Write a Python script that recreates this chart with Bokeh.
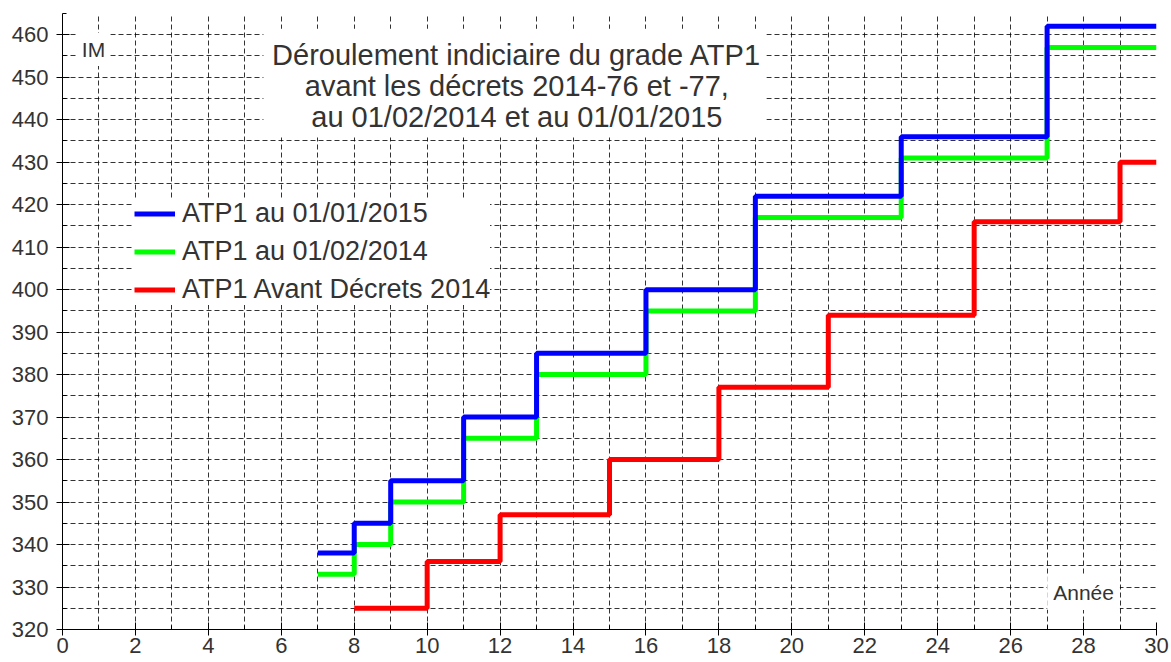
from bokeh.plotting import figure
from bokeh.models import FixedTicker, Label, BoxAnnotation, Range1d, Legend
from bokeh.embed import file_html
from bokeh.resources import INLINE

# ---- data ----
x_2015 = [7, 8, 9, 11, 13, 16, 19, 23, 27, 30]
y_2015 = [338, 345, 355, 370, 385, 400, 422, 436, 462, 462]

x_2014 = [7, 8, 9, 11, 13, 16, 19, 23, 27, 30]
y_2014 = [333, 340, 350, 365, 380, 395, 417, 431, 457, 457]

x_avant = [8, 10, 12, 15, 18, 21, 25, 29, 30]
y_avant = [325, 336, 347, 360, 377, 394, 416, 430, 430]

series_names = ["ATP1 au 01/01/2015", "ATP1 au 01/02/2014", "ATP1 Avant Décrets 2014"]

x_major = list(range(0, 31, 2))
x_minor = list(range(1, 30, 2))
y_major = list(range(320, 461, 10))
y_minor = list(range(325, 466, 10))

title_text = "Déroulement indiciaire du grade ATP1\navant les décrets 2014-76 et -77,\nau 01/02/2014 et au 01/01/2015"

FONT = "Liberation Sans"
TXT = "#333333"

p = figure(width=1170, height=662, output_backend="svg", toolbar_location=None,
           x_range=Range1d(0, 30), y_range=Range1d(320, 465),
           min_border_left=62, min_border_right=14, min_border_top=13, min_border_bottom=33)
p.outline_line_color = None
p.background_fill_color = "white"

p.xaxis.ticker = FixedTicker(ticks=x_major, minor_ticks=x_minor)
p.yaxis.ticker = FixedTicker(ticks=y_major, minor_ticks=y_minor)

for ax in (p.xaxis, p.yaxis):
    ax.axis_line_color = "black"
    ax.major_tick_line_color = "black"
    ax.minor_tick_line_color = "black"
    ax.major_tick_in = 7
    ax.major_tick_out = 6
    ax.minor_tick_in = 4
    ax.minor_tick_out = 0
    ax.major_label_text_font = FONT
    ax.major_label_text_font_size = "22px"
    ax.major_label_text_color = TXT
p.xaxis.major_label_standoff = 2
p.yaxis.major_label_standoff = 8

for g in (p.xgrid, p.ygrid):
    g.grid_line_color = "black"
    g.grid_line_alpha = 0.8
    g.grid_line_dash = "5 3"
    g.grid_line_width = 1
    g.minor_grid_line_color = "black"
    g.minor_grid_line_alpha = 0.8
    g.minor_grid_line_dash = "5 3"
    g.minor_grid_line_width = 1

r1 = p.step(x_2015, y_2015, mode="after", line_color="#0000ff", line_width=5)
r2 = p.step(x_2014, y_2014, mode="after", line_color="#00ff00", line_width=5)
r3 = p.step(x_avant, y_avant, mode="after", line_color="#ff0000", line_width=5)
# draw blue on top of green
p.renderers = [r3, r2, r1]

legend = Legend(items=[(series_names[0], [r1]), (series_names[1], [r2]), (series_names[2], [r3])],
                location=(72, 324))
legend.background_fill_color = "white"
legend.background_fill_alpha = 1.0
legend.border_line_color = None
legend.label_text_font = FONT
legend.label_text_font_size = "27px"
legend.label_text_color = TXT
legend.glyph_width = 41
legend.glyph_height = 31
legend.label_height = 31
legend.label_standoff = 7
legend.spacing = 7
legend.padding = 12
legend.margin = 0
p.add_layout(legend, "center")

# title box
p.add_layout(BoxAnnotation(left=5.51, right=19.30, bottom=435.8, top=461.4,
                           fill_color="white", fill_alpha=1.0, line_color=None))
p.add_layout(Label(x=12.46, y=447.9, text=title_text, text_align="center", text_baseline="middle",
                   text_font=FONT, text_font_size="29px", text_color=TXT, text_line_height=0.96))

p.add_layout(Label(x=0.85, y=456.5, text="IM", text_align="center", text_baseline="middle",
                   text_font=FONT, text_font_size="21px", text_color=TXT,
                   background_fill_color="white", padding=5))
p.add_layout(Label(x=28.0, y=328.7, text="Année", text_align="center", text_baseline="middle",
                   text_font=FONT, text_font_size="21px", text_color=TXT,
                   background_fill_color="white", padding=6))

open("out.html", "w").write(file_html(p, INLINE))
